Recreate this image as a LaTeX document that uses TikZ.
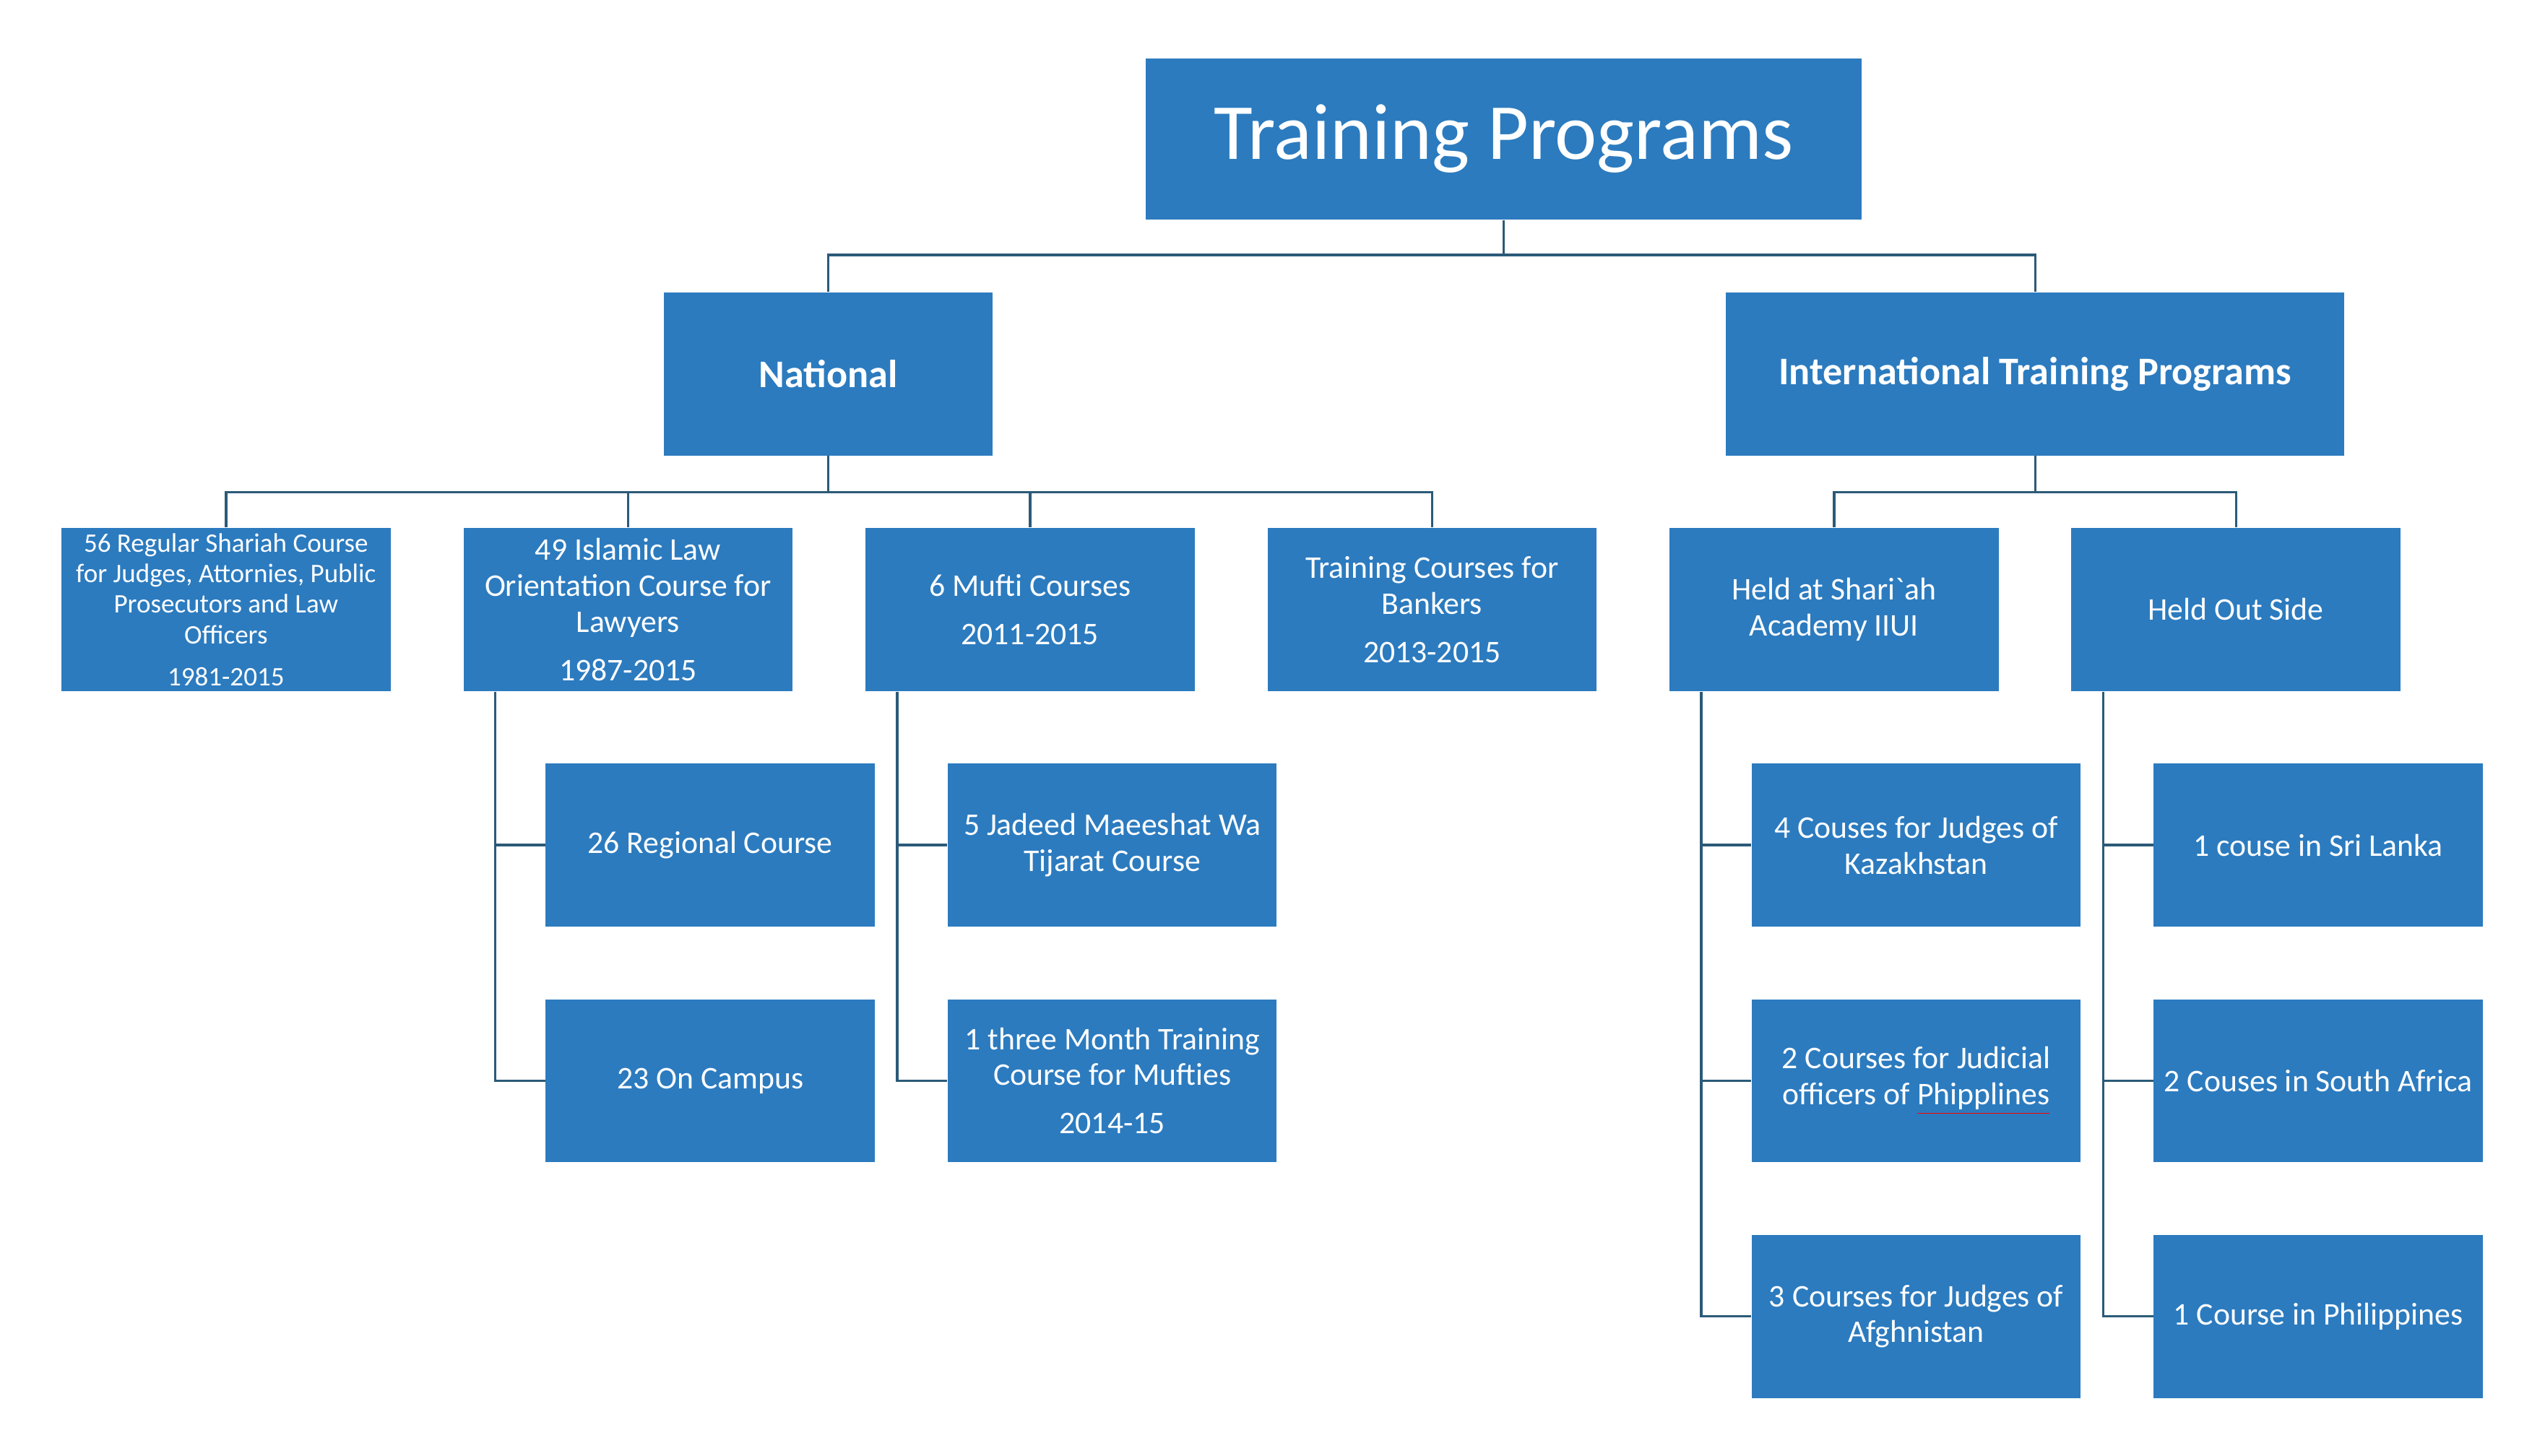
\documentclass[tikz,border=0pt]{standalone}
\usepackage{fontspec}
\setmainfont{Carlito}
\usepackage{xcolor}
\usepackage{tikz}
\usetikzlibrary{positioning,calc}

\definecolor{boxblue}{HTML}{2C7BBF}
\definecolor{linkblue}{HTML}{2B5A78}

\begin{document}
\begin{tikzpicture}[
			box/.style = {fill=boxblue, text=white, align=center, inner sep=1pt,
				minimum width=4.58cm, minimum height=2.27cm,
				font=\fontsize{12.5}{14.2}\selectfont},
			small/.style = {font=\fontsize{10.6}{12.1}\selectfont},
			head/.style = {font=\fontsize{15.5}{18}\selectfont\bfseries},
			link/.style = {draw=linkblue, line width=1pt}]
			\useasboundingbox (0,0) rectangle (35.24,-20.26);

			\node[box,minimum width=9.96cm,minimum height=2.25cm,font=\fontsize{31.5}{36}\selectfont] (top) at (20.93,-1.935) {Training Programs};

			\node[box,head] (nat) at (11.525,-5.205) {National};
			\node[box,head,minimum width=8.61cm] (intl) at (28.325,-5.205) {International Training Programs};

			\node[box,small] (reg) at (3.145,-8.485) {56 Regular Shariah Course\\for Judges, Attornies, Public\\Prosecutors and Law\\Officers\\[4.5pt]1981-2015};
			\node[box] (law) at (8.74,-8.485) {49 Islamic Law\\Orientation Course for\\Lawyers\\[5pt]1987-2015};
			\node[box] (mufti) at (14.335,-8.485) {6 Mufti Courses\\[5pt]2011-2015};
			\node[box] (bank) at (19.93,-8.485) {Training Courses for\\Bankers\\[5pt]2013-2015};
			\node[box] (held) at (25.525,-8.485) {Held at Shari\textasciigrave ah\\Academy IIUI};
			\node[box] (out) at (31.12,-8.485) {Held Out Side};

			\node[box] (law1) at (9.885,-11.765) {26 Regional Course};
			\node[box] (law2) at (9.885,-15.045) {23 On Campus};

			\node[box] (mufti1) at (15.48,-11.765) {5 Jadeed Maeeshat Wa\\Tijarat Course};
			\node[box] (mufti2) at (15.48,-15.045) {1 three Month Training\\Course for Mufties\\[5pt]2014-15};

			\node[box] (held1) at (26.67,-11.765) {4 Couses for Judges of\\Kazakhstan};
			\node[box] (held2) at (26.67,-15.045) {2 Courses for Judicial\\officers of {\color{red}\underline{\color{white}Phipplines}}};
			\node[box] (held3) at (26.67,-18.325) {3 Courses for Judges of\\Afghnistan};

			\node[box] (out1) at (32.265,-11.765) {1 couse in Sri Lanka};
			\node[box] (out2) at (32.265,-15.045) {2 Couses in South Africa};
			\node[box] (out3) at (32.265,-18.325) {1 Course in Philippines};

			\coordinate (bus0) at (0,-3.55);
			\coordinate (bus1) at (0,-6.85);

			\draw[link] (top.south) -- (top.south |- bus0) -| (nat.north);
			\draw[link] (top.south |- bus0) -| (intl.north);

			\draw[link] (nat.south) -- (nat.south |- bus1) -| (reg.north);
			\draw[link] (nat.south |- bus1) -| (bank.north);
			\draw[link] (law.north |- bus1) -- (law.north);
			\draw[link] (mufti.north |- bus1) -- (mufti.north);

			\draw[link] (intl.south) -- (intl.south |- bus1) -| (held.north);
			\draw[link] (intl.south |- bus1) -| (out.north);

			\draw[link] ([xshift=4.5mm]law.south west) |- (law2.west);
			\draw[link] ([xshift=4.5mm]law.south west) |- (law1.west);
			\draw[link] ([xshift=4.5mm]mufti.south west) |- (mufti2.west);
			\draw[link] ([xshift=4.5mm]mufti.south west) |- (mufti1.west);
			\draw[link] ([xshift=4.5mm]held.south west) |- (held3.west);
			\draw[link] ([xshift=4.5mm]held.south west) |- (held2.west);
			\draw[link] ([xshift=4.5mm]held.south west) |- (held1.west);
			\draw[link] ([xshift=4.5mm]out.south west) |- (out3.west);
			\draw[link] ([xshift=4.5mm]out.south west) |- (out2.west);
			\draw[link] ([xshift=4.5mm]out.south west) |- (out1.west);

		\end{tikzpicture}
\end{document}
